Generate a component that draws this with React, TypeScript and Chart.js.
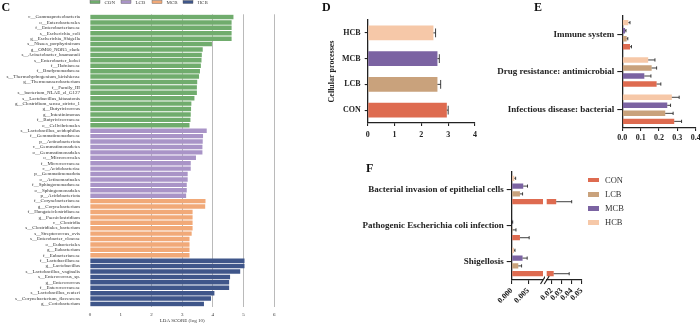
import React, { useEffect, useRef } from "react";
import { Chart, registerables } from "chart.js";
Chart.register(...registerables);

const SERIF = "'Liberation Serif', 'Times New Roman', serif";

// ---------- Panel C : LEfSe LDA scores ----------
const ldaGroups = ["CON", "LCB", "MCB", "HCB"];
const ldaColors = ["#70ac6d", "#a994c7", "#f1a978", "#3f568a"];
const conTaxa = [
  "c__Gammaproteobacteria", "o__Enterobacterales", "f__Enterobacteriaceae", "s__Escherichia_coli",
  "g__Escherichia_Shigella", "s__Nisaea_porphyrinicum", "g__OM60_NOR5_clade", "s__Acinetobacter_baumannii",
  "s__Enterobacter_kobei", "f__Hafniaceae", "f__Bradymonadaceae", "s__Thermohydrogenium_kirishiense",
  "g__Thermoanaerobacterium", "f__Family_III", "s__bacterium_NLAE_zl_G127", "s__Lactobacillus_kitasatonis",
  "g__Clostridium_sensu_stricto_1", "g__Butyricicoccus", "g__Intestinimonas", "f__Butyricicoccaceae",
  "o__Cellvibrionales",
];
const conLda = [4.67, 4.61, 4.61, 4.61, 4.61, 3.97, 3.67, 3.64, 3.63, 3.61, 3.58, 3.55, 3.49, 3.48, 3.48, 3.40, 3.30, 3.29, 3.28, 3.27, 3.24];
const lcbTaxa = [
  "s__Lactobacillus_acidophilus", "f__Gemmatimonadaceae", "p__Actinobacteriota", "c__Gemmatimonadetes",
  "o__Gemmatimonadales", "o__Micrococcales", "f__Micrococcaceae", "c__Acidobacteriae", "p__Gemmatimonadota",
  "o__Actinomarinales", "f__Sphingomonadaceae", "o__Sphingomonadales", "p__Acidobacteriota",
];
const lcbLda = [3.80, 3.68, 3.67, 3.66, 3.66, 3.45, 3.28, 3.28, 3.18, 3.18, 3.15, 3.15, 3.13];
const mcbTaxa = [
  "f__Corynebacteriaceae", "g__Corynebacterium", "f__Hungateiclostridiaceae", "g__Paeniclostridium",
  "c__Clostridia", "s__Clostridiales_bacterium", "s__Streptococcus_ovis", "s__Enterobacter_cloacae",
  "o__Eubacteriales", "g__Eubacterium", "f__Eubacteriaceae",
];
const mcbLda = [3.76, 3.75, 3.34, 3.34, 3.34, 3.34, 3.31, 3.24, 3.24, 3.24, 3.24];
const hcbTaxa = [
  "f__Lactobacillaceae", "g__Lactobacillus", "s__Lactobacillus_vaginalis", "s__Enterococcus_sp.",
  "g__Enterococcus", "f__Enterococcaceae", "s__Lactobacillus_reuteri", "s__Corynebacterium_flavescens",
  "g__Coriobacterium",
];
const hcbLda = [5.03, 5.03, 4.89, 4.56, 4.53, 4.53, 4.05, 3.94, 3.71];
const ldaTicks = [0, 1, 2, 3, 4, 5, 6];
const ldaAxisTitle = "LDA SCORE (log 10)";

// ---------- shared group colours (D, E, F) ----------
const groupColors: Record<string, string> = {
  CON: "#de6b50",
  LCB: "#c9a27c",
  MCB: "#7b63a2",
  HCB: "#f6c8a8",
};

// ---------- Panel D ----------
const dCategories = ["HCB", "MCB", "LCB", "CON"];
const dValues = [2.45, 2.6, 2.6, 2.95];
const dErrors = [0.08, 0.07, 0.12, 0.05];
const dTicks = [0, 1, 2, 3, 4];
const dTitle = "Cellular processes";

// ---------- Panel E ----------
const eCategories = ["Immune system", "Drug resistance: antimicrobial", "Infectious disease: bacterial"];
const eCON = [0.042, 0.187, 0.283];
const eLCB = [0.024, 0.16, 0.234];
const eMCB = [0.015, 0.12, 0.245];
const eHCB = [0.033, 0.141, 0.27];
const eCONerr = [0.008, 0.023, 0.04];
const eLCBerr = [0.006, 0.027, 0.043];
const eMCBerr = [0.005, 0.036, 0.018];
const eHCBerr = [0.009, 0.037, 0.04];
// bar order top -> bottom inside each category
const eOrder = [
  ["HCB", "MCB", "LCB", "CON"],
  ["HCB", "LCB", "MCB", "CON"],
  ["HCB", "MCB", "LCB", "CON"],
];
const eTicks = [0, 0.1, 0.2, 0.3, 0.4];

// ---------- Panel F ----------
const fCategories = ["Bacterial invasion of epithelial cells", "Pathogenic Escherichia coli infection", "Shigellosis"];
const fCON = [0.0245, 0.0025, 0.022];
const fLCB = [0.0025, 0.0003, 0.002];
const fMCB = [0.0035, 0.0001, 0.0033];
const fHCB = [0.0008, 0, 0.0007];
const fCONerr = [0.0155, 0.0028, 0.0155];
const fLCBerr = [0.0008, 0.001, 0.001];
const fMCBerr = [0.0013, 0.0002, 0.0014];
const fHCBerr = [0.0004, 0, 0.0003];
const fOrder = ["HCB", "MCB", "LCB", "CON"];
const fLegend = ["CON", "LCB", "MCB", "HCB"];
const fLow = [0, 0.0095];
const fHigh = [0.015, 0.05];
const fTicksLow = [0, 0.005];
const fTicksHigh = [0.02, 0.03, 0.04, 0.05];

// ---------- plugins ----------
const errorBarPlugin = {
  id: "errorBars",
  afterDatasetsDraw(chart: any) {
    const { ctx, chartArea } = chart;
    const xs = chart.scales.x;
    ctx.save();
    ctx.beginPath();
    ctx.rect(chartArea.left, chartArea.top - 6, chartArea.right - chartArea.left, chartArea.bottom - chartArea.top + 12);
    ctx.clip();
    ctx.strokeStyle = "#2a2a2a";
    ctx.lineWidth = 0.9;
    chart.data.datasets.forEach((ds: any, i: number) => {
      if (!ds.errors) return;
      const meta = chart.getDatasetMeta(i);
      meta.data.forEach((bar: any, j: number) => {
        const v = ds.data[j];
        const e = ds.errors[j];
        if (v == null || !e) return;
        const x0 = xs.getPixelForValue(v);
        const x1 = xs.getPixelForValue(v + e);
        const y = bar.y;
        const h = Math.max(1.5, bar.height * 0.3);
        ctx.beginPath();
        ctx.moveTo(x0, y);
        ctx.lineTo(x1, y);
        ctx.moveTo(x1, y - h);
        ctx.lineTo(x1, y + h);
        ctx.stroke();
      });
    });
    ctx.restore();
  },
};

const makeBreakPlugin = (side: "left" | "right") => ({
  id: "axisBreak" + side,
  afterDraw(chart: any) {
    const { ctx, chartArea } = chart;
    const x = side === "right" ? chartArea.right : chartArea.left;
    const y = chartArea.bottom;
    ctx.save();
    ctx.strokeStyle = "#222";
    ctx.lineWidth = 1.2;
    ctx.beginPath();
    ctx.moveTo(x - 2.5, y + 4);
    ctx.lineTo(x + 2.5, y - 4);
    ctx.stroke();
    ctx.restore();
  },
});

const ldaLegendPlugin = {
  id: "ldaLegend",
  afterDraw(chart: any) {
    const { ctx, chartArea } = chart;
    ctx.save();
    ctx.font = `5px ${SERIF}`;
    ctx.textBaseline = "middle";
    ldaGroups.forEach((g, i) => {
      const x = chartArea.left + i * 31;
      ctx.fillStyle = ldaColors[i];
      ctx.fillRect(x, 0.5, 10, 3);
      ctx.strokeStyle = "#555";
      ctx.lineWidth = 0.4;
      ctx.strokeRect(x, 0.5, 10, 3);
      ctx.fillStyle = "#444";
      ctx.fillText(g, x + 14.5, 2.2);
    });
    ctx.restore();
  },
};

const setTicks = (arr: number[]) => (s: any) => {
  s.ticks = arr.map((v) => ({ value: v }));
};

// ---------- configs ----------
function configC(): any {
  const sets = [conLda, lcbLda, mcbLda, hcbLda];
  const labels = [...conTaxa, ...lcbTaxa, ...mcbTaxa, ...hcbTaxa];
  let offset = 0;
  const datasets = sets.map((vals, g) => {
    const start = offset;
    offset += vals.length;
    return {
      label: ldaGroups[g],
      data: labels.map((_, i) => (i >= start && i < start + vals.length ? vals[i - start] : null)),
      backgroundColor: ldaColors[g],
      barPercentage: 0.82,
      categoryPercentage: 1,
      grouped: false,
    };
  });
  return {
    type: "bar",
    data: { labels, datasets },
    options: {
      indexAxis: "y",
      responsive: false,
      animation: false,
      layout: { padding: { top: 14.3, right: 25.7, left: 0, bottom: 0 } },
      plugins: { legend: { display: false }, tooltip: { enabled: false } },
      scales: {
        x: {
          type: "linear",
          min: 0,
          max: 6,
          z: 1,
          afterBuildTicks: setTicks(ldaTicks),
          afterFit: (s: any) => {
            s.height = 17.3;
            s.paddingLeft = 0;
            s.paddingRight = 0;
          },
          grid: {
            drawTicks: false,
            lineWidth: 0.7,
            color: (c: any) => (c.tick && c.tick.value >= 2 ? "#9c9c9c" : "rgba(0,0,0,0)"),
          },
          border: { display: false },
          ticks: { autoSkip: false, font: { family: SERIF, size: 5 }, color: "#333", padding: 5 },
          title: {
            display: true,
            text: ldaAxisTitle,
            font: { family: SERIF, size: 5 },
            color: "#333",
            padding: { top: 0, bottom: 0.5 },
          },
        },
        y: {
          type: "category",
          afterFit: (s: any) => {
            s.width = 90;
            s.paddingTop = 0;
            s.paddingBottom = 0;
          },
          grid: { display: false },
          border: { display: false },
          ticks: { autoSkip: false, font: { family: SERIF, size: 5 }, color: "#333", padding: 2 },
        },
      },
    },
    plugins: [ldaLegendPlugin],
  };
}

const axisGrid = (len: number) => ({
  drawOnChartArea: false,
  drawTicks: true,
  tickLength: len,
  color: "#222",
  lineWidth: 1.1,
  offset: false,
});
const axisBorder = { display: true, color: "#222", width: 1.3 };

function configD(): any {
  return {
    type: "bar",
    data: {
      labels: dCategories,
      datasets: [
        {
          data: dValues,
          errors: dErrors,
          backgroundColor: dCategories.map((c) => groupColors[c]),
          barPercentage: 0.57,
          categoryPercentage: 1,
        },
      ],
    },
    options: {
      indexAxis: "y",
      responsive: false,
      animation: false,
      layout: { padding: { top: 20, right: 10, left: 0, bottom: 0 } },
      plugins: { legend: { display: false }, tooltip: { enabled: false } },
      scales: {
        x: {
          type: "linear",
          min: 0,
          max: 4,
          afterBuildTicks: setTicks(dTicks),
          afterFit: (s: any) => {
            s.height = 27;
            s.paddingLeft = 0;
            s.paddingRight = 0;
          },
          grid: axisGrid(3),
          border: axisBorder,
          ticks: { autoSkip: false, font: { family: SERIF, size: 8, weight: "bold" }, color: "#222", padding: 4 },
        },
        y: {
          afterFit: (s: any) => {
            s.width = 67.7;
            s.paddingTop = 0;
            s.paddingBottom = 0;
          },
          grid: axisGrid(3),
          border: axisBorder,
          ticks: { autoSkip: false, font: { family: SERIF, size: 8, weight: "bold" }, color: "#222", padding: 4 },
          title: {
            display: true,
            text: dTitle,
            font: { family: SERIF, size: 8, weight: "bold" },
            color: "#222",
            padding: { top: 27, bottom: 0 },
          },
        },
      },
    },
    plugins: [errorBarPlugin],
  };
}

function configE(): any {
  const series: Record<string, number[]> = { CON: eCON, LCB: eLCB, MCB: eMCB, HCB: eHCB };
  const errs: Record<string, number[]> = { CON: eCONerr, LCB: eLCBerr, MCB: eMCBerr, HCB: eHCBerr };
  const datasets = [0, 1, 2, 3].map((k) => ({
    data: eCategories.map((_, g) => series[eOrder[g][k]][g]),
    errors: eCategories.map((_, g) => errs[eOrder[g][k]][g]),
    backgroundColor: eCategories.map((_, g) => groupColors[eOrder[g][k]]),
    barPercentage: 0.68,
    categoryPercentage: 0.86,
  }));
  return {
    type: "bar",
    data: { labels: eCategories, datasets },
    options: {
      indexAxis: "y",
      responsive: false,
      animation: false,
      layout: { padding: { top: 16, right: 4.3, left: 0, bottom: 0 } },
      plugins: { legend: { display: false }, tooltip: { enabled: false } },
      scales: {
        x: {
          type: "linear",
          min: 0,
          max: 0.4,
          afterBuildTicks: setTicks(eTicks),
          afterFit: (s: any) => {
            s.height = 22;
            s.paddingLeft = 0;
            s.paddingRight = 0;
          },
          grid: axisGrid(3),
          border: axisBorder,
          ticks: {
            autoSkip: false,
            font: { family: SERIF, size: 8, weight: "bold" },
            color: "#222",
            padding: 2,
            callback: (v: any) => Number(v).toFixed(1),
          },
        },
        y: {
          afterFit: (s: any) => {
            s.width = 132.3;
            s.paddingTop = 0;
            s.paddingBottom = 0;
          },
          grid: axisGrid(5),
          border: axisBorder,
          ticks: { autoSkip: false, font: { family: SERIF, size: 9, weight: "bold" }, color: "#222", padding: 3 },
        },
      },
    },
    plugins: [errorBarPlugin],
  };
}

function fDatasets() {
  const series: Record<string, number[]> = { CON: fCON, LCB: fLCB, MCB: fMCB, HCB: fHCB };
  const errs: Record<string, number[]> = { CON: fCONerr, LCB: fLCBerr, MCB: fMCBerr, HCB: fHCBerr };
  return fOrder.map((g) => ({
    label: g,
    data: series[g],
    errors: errs[g],
    backgroundColor: groupColors[g],
    barPercentage: 0.68,
    categoryPercentage: 0.867,
  }));
}

function configF(part: "low" | "high"): any {
  const low = part === "low";
  const range = low ? fLow : fHigh;
  return {
    type: "bar",
    data: { labels: fCategories, datasets: fDatasets() },
    options: {
      indexAxis: "y",
      responsive: false,
      animation: false,
      layout: { padding: low ? { top: 12, right: 2, left: 0, bottom: 0 } : { top: 12, right: 8.3, left: 6.7, bottom: 0 } },
      plugins: { legend: { display: false }, tooltip: { enabled: false } },
      scales: {
        x: {
          type: "linear",
          min: range[0],
          max: range[1],
          afterBuildTicks: setTicks(low ? fTicksLow : fTicksHigh),
          afterFit: (s: any) => {
            s.height = 44;
            s.paddingLeft = 0;
            s.paddingRight = 0;
          },
          grid: axisGrid(4),
          border: axisBorder,
          ticks: {
            autoSkip: false,
            font: { family: SERIF, size: 8, weight: "bold" },
            color: "#222",
            padding: 2,
            minRotation: 45,
            maxRotation: 45,
            callback: (v: any) => Number(v).toFixed(low ? 3 : 2),
          },
        },
        y: low
          ? {
              afterFit: (s: any) => {
                s.width = 151.7;
                s.paddingTop = 0;
                s.paddingBottom = 0;
              },
              grid: axisGrid(5),
              border: axisBorder,
              ticks: { autoSkip: false, font: { family: SERIF, size: 9, weight: "bold" }, color: "#222", padding: 3 },
            }
          : { display: false },
      },
    },
    plugins: [errorBarPlugin, makeBreakPlugin(low ? "right" : "left")],
  };
}

// ---------- components ----------
function ChartCanvas(props: { left: number; top: number; width: number; height: number; make: () => any }) {
  const ref = useRef<HTMLCanvasElement>(null);
  useEffect(() => {
    const chart = new Chart(ref.current as HTMLCanvasElement, props.make());
    return () => chart.destroy();
  }, []);
  return (
    <canvas
      ref={ref}
      width={props.width}
      height={props.height}
      style={{ position: "absolute", left: props.left, top: props.top, width: props.width, height: props.height, display: "block" }}
    />
  );
}

const letterStyle = (left: number, top: number): React.CSSProperties => ({
  position: "absolute",
  left,
  top,
  fontFamily: SERIF,
  fontWeight: "bold",
  fontSize: 12,
  lineHeight: 1,
  color: "#111",
});

export default function App() {
  return (
    <div style={{ position: "absolute", left: 0, top: 0, width: 700, height: 324, background: "#fff", overflow: "hidden" }}>
      <ChartCanvas left={0} top={0} width={300} height={324} make={configC} />
      <ChartCanvas left={300} top={0} width={185} height={150} make={configD} />
      <ChartCanvas left={490} top={0} width={210} height={150} make={configE} />
      <ChartCanvas left={360} top={160} width={185} height={164} make={() => configF("low")} />
      <ChartCanvas left={540} top={160} width={50} height={164} make={() => configF("high")} />
      <div style={letterStyle(1.5, 1)}>C</div>
      <div style={letterStyle(322, 1)}>D</div>
      <div style={letterStyle(534, 1)}>E</div>
      <div style={letterStyle(366, 162)}>F</div>
      <div style={{ position: "absolute", left: 588, top: 173 }}>
        {fLegend.map((g) => (
          <div key={g} style={{ display: "flex", alignItems: "center", height: 14.2 }}>
            <div style={{ width: 11, height: 4.5, background: groupColors[g] }} />
            <div style={{ marginLeft: 6, fontFamily: SERIF, fontSize: 8.5, color: "#333", lineHeight: 1 }}>{g}</div>
          </div>
        ))}
      </div>
    </div>
  );
}
